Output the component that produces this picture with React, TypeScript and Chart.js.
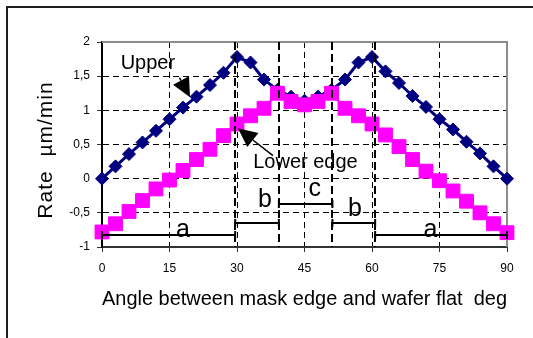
import React, { useEffect, useRef } from 'react';
import { Chart, registerables } from 'chart.js';

Chart.register(...registerables);

// ---- data ----
const angles = [0, 3, 6, 9, 12, 15, 18, 21, 24, 27, 30, 33, 36, 39, 42, 45, 48, 51, 54, 57, 60, 63, 66, 69, 72, 75, 78, 81, 84, 87, 90];
const upperRate = [0, 0.18, 0.36, 0.53, 0.7, 0.87, 1.04, 1.2, 1.37, 1.55, 1.78, 1.7, 1.45, 1.3, 1.2, 1.14, 1.2, 1.3, 1.45, 1.7, 1.78, 1.57, 1.4, 1.21, 1.05, 0.87, 0.72, 0.54, 0.37, 0.18, 0];
const lowerRate = [-0.78, -0.66, -0.48, -0.32, -0.15, -0.02, 0.12, 0.28, 0.43, 0.63, 0.8, 0.92, 1.03, 1.25, 1.13, 1.08, 1.13, 1.25, 1.03, 0.92, 0.8, 0.64, 0.47, 0.28, 0.11, -0.03, -0.18, -0.33, -0.5, -0.66, -0.79];

const xMin = 0;
const xMax = 90;
const xStep = 15;
const yMin = -1;
const yMax = 2;
const yStep = 0.5;

// zones a / b / c / b / a (in degrees and rate units)
const zoneNames = ['a', 'b', 'c', 'b', 'a'];
const zoneStart = [0, 29.6, 39.3, 51.2, 60.7];
const zoneEnd = [29.6, 39.3, 51.2, 60.7, 90];
const zoneLevel = [-0.82, -0.65, -0.37, -0.65, -0.82];
const zoneBoundaries = [29.6, 39.3, 51.2, 60.7];

const xTitle = 'Angle between mask edge and wafer flat  deg';
const yTitle = 'Rate  µm/min';
const upperText = 'Upper';
const lowerText = 'Lower edge';

// annotation anchors (data units)
const zoneLabelAnchor = [
  { x: 18, y: -0.86 },
  { x: 36.2, y: -0.42 },
  { x: 47.3, y: -0.26 },
  { x: 56.2, y: -0.55 },
  { x: 73, y: -0.86 },
];
const callouts = [
  { text: upperText, tx: 10.2, ty: 1.6, align: 'center', from: { x: 17.2, y: 1.48 }, to: { x: 19.56, y: 1.19 } },
  { text: lowerText, tx: 33.6, ty: 0.16, align: 'left', from: { x: 38.0, y: 0.336 }, to: { x: 30.2, y: 0.737 } },
];

const FONT = '"Liberation Sans", Arial, sans-serif';

const annotationPlugin = {
  id: 'annotations',
  beforeDraw(chart: any) {
    const ctx = chart.ctx;
    ctx.save();
    ctx.strokeStyle = '#1e1e1e';
    ctx.lineWidth = 2;
    ctx.strokeRect(7, 7, 600, 400);
    ctx.restore();
  },
  beforeDatasetsDraw(chart: any) {
    const { ctx, chartArea } = chart;
    ctx.save();
    ctx.strokeStyle = '#8c8c8c';
    ctx.lineWidth = 2;
    ctx.beginPath();
    ctx.moveTo(chartArea.left, chartArea.top);
    ctx.lineTo(chartArea.right, chartArea.top);
    ctx.lineTo(chartArea.right, chartArea.bottom);
    ctx.stroke();
    // y axis title
    ctx.fillStyle = '#000';
    ctx.font = `21px ${FONT}`;
    ctx.textAlign = 'center';
    ctx.textBaseline = 'middle';
    try { (ctx as any).letterSpacing = '1px'; } catch (e) { /* ignore */ }
    ctx.translate(46, 150);
    ctx.rotate(-Math.PI / 2);
    ctx.fillText(yTitle, 0, 0);
    ctx.restore();
  },
  afterDatasetsDraw(chart: any) {
    const { ctx, chartArea } = chart;
    const xs = chart.scales.x;
    const ys = chart.scales.y;
    ctx.save();
    // zone boundaries
    ctx.strokeStyle = '#000';
    ctx.lineWidth = 2;
    ctx.setLineDash([8, 4]);
    zoneBoundaries.forEach((b) => {
      const px = Math.round(xs.getPixelForValue(b));
      ctx.beginPath();
      ctx.moveTo(px, chartArea.top);
      ctx.lineTo(px, chartArea.bottom);
      ctx.stroke();
    });
    ctx.setLineDash([]);
    // zone segments
    ctx.lineWidth = 2;
    zoneNames.forEach((name, i) => {
      const x1 = xs.getPixelForValue(zoneStart[i]);
      const x2 = xs.getPixelForValue(zoneEnd[i]);
      const y = Math.round(ys.getPixelForValue(zoneLevel[i]));
      ctx.beginPath();
      ctx.moveTo(x1, y);
      ctx.lineTo(x2, y);
      ctx.moveTo(x1, y - 4);
      ctx.lineTo(x1, y + 4);
      ctx.moveTo(x2, y - 4);
      ctx.lineTo(x2, y + 4);
      ctx.stroke();
      const a = zoneLabelAnchor[i];
      ctx.fillStyle = '#000';
      ctx.font = `25px ${FONT}`;
      ctx.textAlign = 'center';
      ctx.textBaseline = 'alphabetic';
      ctx.fillText(name, xs.getPixelForValue(a.x), ys.getPixelForValue(a.y));
    });
    // callouts
    callouts.forEach((c) => {
      ctx.fillStyle = '#000';
      ctx.font = `20px ${FONT}`;
      ctx.textAlign = c.align;
      ctx.textBaseline = 'alphabetic';
      ctx.fillText(c.text, xs.getPixelForValue(c.tx), ys.getPixelForValue(c.ty));
      const fx = xs.getPixelForValue(c.from.x);
      const fy = ys.getPixelForValue(c.from.y);
      const tx = xs.getPixelForValue(c.to.x);
      const ty = ys.getPixelForValue(c.to.y);
      const ang = Math.atan2(ty - fy, tx - fx);
      const headLen = 19;
      const halfW = 9;
      const bx = tx - headLen * Math.cos(ang);
      const by = ty - headLen * Math.sin(ang);
      ctx.strokeStyle = '#000';
      ctx.lineWidth = 1.5;
      ctx.beginPath();
      ctx.moveTo(fx, fy);
      ctx.lineTo(bx, by);
      ctx.stroke();
      ctx.beginPath();
      ctx.moveTo(tx, ty);
      ctx.lineTo(bx + halfW * Math.sin(ang), by - halfW * Math.cos(ang));
      ctx.lineTo(bx - halfW * Math.sin(ang), by + halfW * Math.cos(ang));
      ctx.closePath();
      ctx.fill();
    });
    ctx.restore();
  },
};

export default function App() {
  const canvasRef = useRef<HTMLCanvasElement | null>(null);

  useEffect(() => {
    const canvas = canvasRef.current;
    if (!canvas) return;
    const gridColor = (edgeMin: number, edgeMax: number) => (c: any) => {
      const v = c.tick ? c.tick.value : null;
      if (v === edgeMin || v === edgeMax) return 'rgba(0,0,0,0)';
      return '#000';
    };
    const chart = new Chart(canvas, {
      type: 'line',
      data: {
        datasets: [
          {
            label: 'Lower edge',
            data: angles.map((a, i) => ({ x: a, y: lowerRate[i] })),
            borderColor: '#ff00ff',
            backgroundColor: '#ff00ff',
            borderWidth: 2,
            pointStyle: 'rect',
            pointRadius: 9.8,
            pointBorderWidth: 1,
            pointBorderColor: '#ff00ff',
            pointBackgroundColor: '#ff00ff',
            clip: false,
            tension: 0,
          },
          {
            label: 'Upper',
            data: angles.map((a, i) => ({ x: a, y: upperRate[i] })),
            borderColor: '#000080',
            backgroundColor: '#000080',
            borderWidth: 3,
            pointStyle: 'rectRot',
            pointRadius: 6.5,
            pointBorderWidth: 1,
            pointBorderColor: '#000080',
            pointBackgroundColor: '#000080',
            clip: false,
            tension: 0,
          },
        ],
      },
      options: {
        animation: false,
        responsive: false,
        maintainAspectRatio: false,
        layout: { padding: { top: 42, right: 26, left: 0, bottom: 0 } },
        plugins: {
          legend: { display: false },
          tooltip: { enabled: false },
        },
        scales: {
          x: {
            type: 'linear',
            min: xMin,
            max: xMax,
            afterFit: (s: any) => { s.height = 91; },
            ticks: {
              stepSize: xStep,
              color: '#000',
              font: { family: FONT, size: 12 },
              padding: 9,
              maxRotation: 0,
            },
            grid: {
              color: gridColor(xMin, xMax),
              lineWidth: 1,
              drawTicks: true,
              tickLength: 5,
              tickColor: '#333',
              tickBorderDash: [],
            },
            border: { display: true, color: '#333', width: 2, dash: [6, 4] },
            title: {
              display: true,
              text: xTitle,
              color: '#000',
              font: { family: FONT, size: 20.5 },
              padding: { top: 0, bottom: 26 },
            },
          },
          y: {
            type: 'linear',
            min: yMin,
            max: yMax,
            afterFit: (s: any) => { s.width = 102; },
            ticks: {
              stepSize: yStep,
              color: '#000',
              font: { family: FONT, size: 12 },
              padding: 7,
              callback: (v: any) => String(v).replace('.', ','),
            },
            grid: {
              color: gridColor(yMin, yMax),
              lineWidth: 1,
              drawTicks: true,
              tickLength: 5,
              tickColor: '#333',
              tickBorderDash: [],
            },
            border: { display: true, color: '#000', width: 2, dash: [6, 4] },
            title: { display: false, text: yTitle },
          },
        },
      },
      plugins: [annotationPlugin],
    });
    return () => chart.destroy();
  }, []);

  return (
    <div style={{ position: 'absolute', left: 0, top: 0, width: 533, height: 338, background: '#fff' }}>
      <canvas ref={canvasRef} width={533} height={338} style={{ width: 533, height: 338, display: 'block' }} />
    </div>
  );
}
